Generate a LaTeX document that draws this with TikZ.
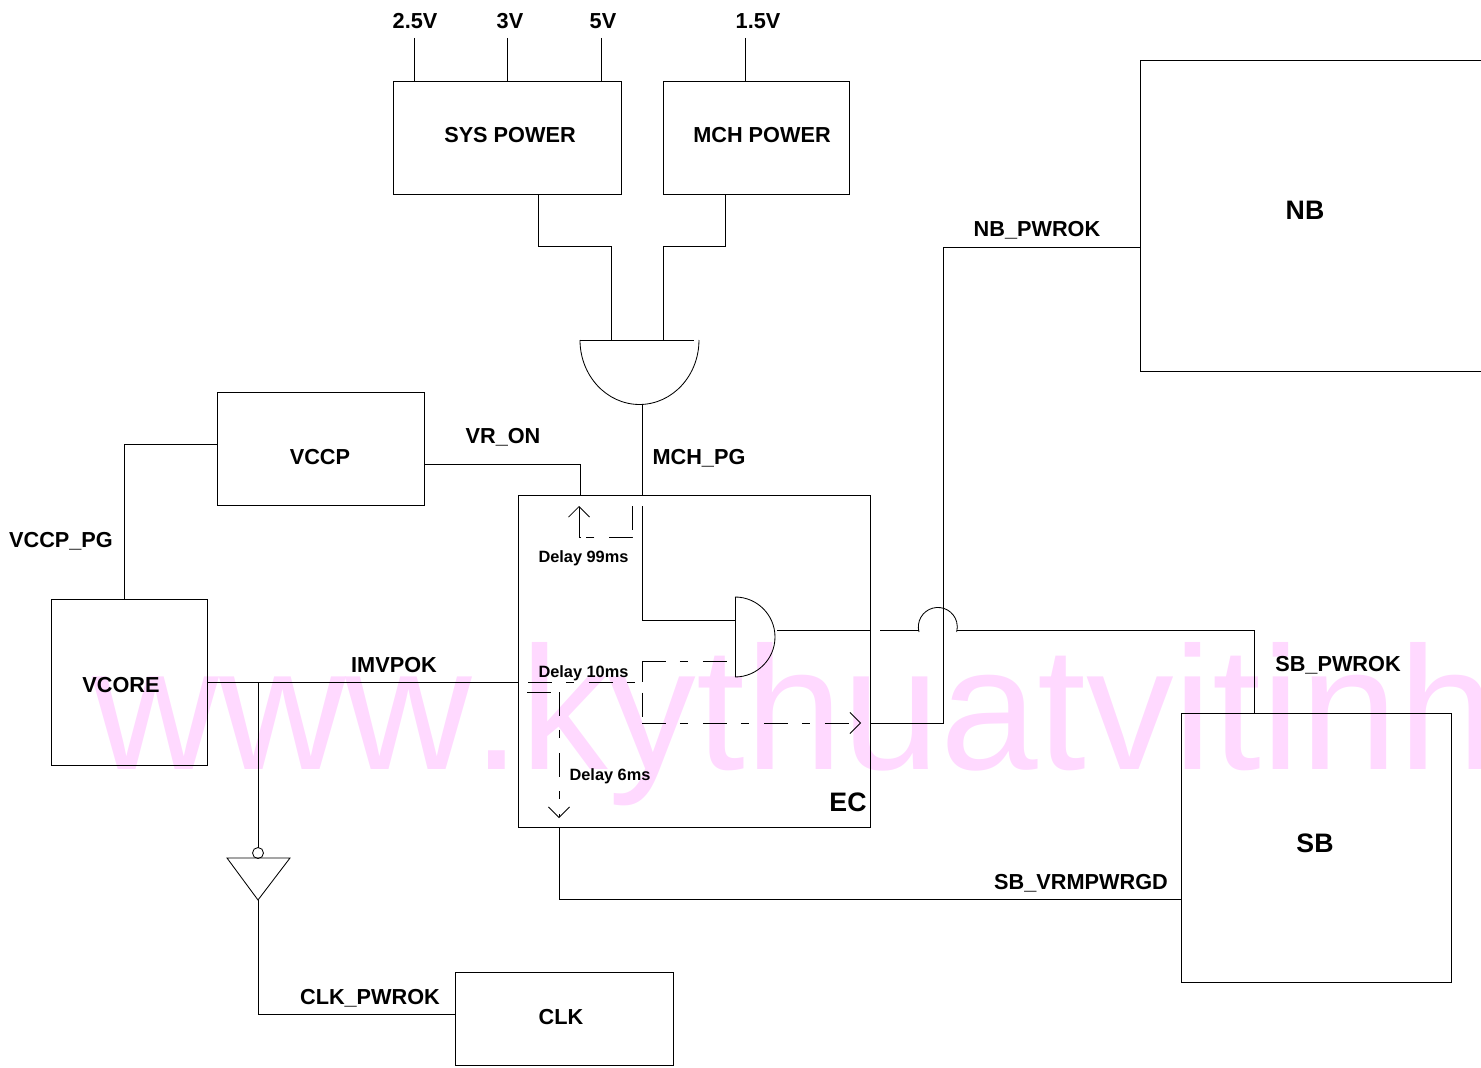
\documentclass[tikz,border=0pt]{standalone}
\usepackage{fontspec}
\setmainfont{Liberation Sans}
\newfontfamily\markfont[Kerning=Off]{Liberation Sans}
\usetikzlibrary{arrows.meta}
\definecolor{markpink}{HTML}{FFD9FF}

\begin{document}
\begin{tikzpicture}[x=0.02cm, y=-0.02cm, line width=0.48pt,
  box/.style={draw, inner sep=0pt},
  lbl/.style={font=\fontsize{12.35}{15}\selectfont\bfseries, inner sep=0pt, text height=9.4pt, text depth=0pt},
  big/.style={font=\fontsize{15.2}{17}\selectfont\bfseries, inner sep=0pt, text height=10.9pt, text depth=0pt},
  small/.style={font=\fontsize{9.3}{11}\selectfont\bfseries, inner sep=0pt, text height=6.7pt, text depth=0pt},
  dashline/.style={dash pattern=on 13.6pt off 8pt on 4.5pt off 8.6pt},
  arrow/.style={-{Straight Barb[length=2.1mm, width=4.2mm]}}]
\useasboundingbox (0,0) rectangle (1481,1068);
\clip (0,0) rectangle (1481,1068);
% background text
\node[anchor=base west, inner sep=0pt, text=markpink, font=\markfont\fontsize{99.8}{110}\selectfont] (mark) at (92,769.5) {www.kythuatvitinh};
% boxes
\node[box, minimum width=4.56cm, minimum height=2.26cm] (sys) at (507,137.5) {};
\node[box, minimum width=3.72cm, minimum height=2.26cm] (mch) at (756,137.5) {};
\node[box, minimum width=8cm, minimum height=6.22cm] (nb) at (1340,215.5) {};
\node[box, minimum width=4.14cm, minimum height=2.26cm] (vccp) at (320.5,448.5) {};
\node[box, minimum width=3.12cm, minimum height=3.32cm] (vcore) at (129,682) {};
\node[box, minimum width=7.04cm, minimum height=6.64cm] (ec) at (694,661) {};
\node[box, minimum width=5.4cm, minimum height=5.38cm] (sb) at (1316,847.5) {};
\node[box, minimum width=4.36cm, minimum height=1.86cm] (clk) at (564,1018.5) {};
% texts
\node[lbl] (t25) at (415,20) {2.5V};
\node[lbl] (t3) at (510,20) {3V};
\node[lbl] (t5) at (603,20) {5V};
\node[lbl] (t15) at (758,20) {1.5V};
\node[lbl] (tsys) at (510,134) {SYS POWER};
\node[lbl] (tmch) at (762,134) {MCH POWER};
\node[big] (tnb) at (1305,210) {NB};
\node[lbl] (tnbok) at (1037,228) {NB\_PWROK};
\node[lbl] (tvr) at (503,435) {VR\_ON};
\node[lbl] (tpg) at (699,456) {MCH\_PG};
\node[lbl] (tvccp) at (320,456) {VCCP};
\node[lbl] (tvpg) at (61,539) {VCCP\_PG};
\node[small] (td99) at (583.5,556.5) {Delay 99ms};
\node[small] (td10) at (583.5,671.5) {Delay 10ms};
\node[small] (td6) at (610,774.5) {Delay 6ms};
\node[lbl] (timv) at (394,664) {IMVPOK};
\node[lbl] (tcore) at (121,684) {VCORE};
\node[lbl] (tsbok) at (1338,663) {SB\_PWROK};
\node[big] (tec) at (848,802) {EC};
\node[big] (tsb) at (1315,843) {SB};
\node[lbl] (tsbv) at (1081,881) {SB\_VRMPWRGD};
\node[lbl] (tclkok) at (370,996) {CLK\_PWROK};
\node[lbl] (tclk) at (561,1016) {CLK};
% rails
\coordinate (r25) at (414,38);\coordinate (r3) at (507,38);\coordinate (r5) at (601,38);\coordinate (r15) at (745,38);
\draw (r25) -- (r25 |- sys.north);\draw (r3) -- (r3 |- sys.north);\draw (r5) -- (r5 |- sys.north);\draw (r15) -- (r15 |- mch.north);
% top gate
\coordinate (ga) at (611,340);\coordinate (gb) at (663,340);\coordinate (gl) at (580,340);\coordinate (gr) at (694,340);\coordinate (gout) at (642,405);
\draw (538,194) |- (ga |- 0,246) -- (ga);
\draw (725,194) |- (gb |- 0,246) -- (gb);
\draw (gl) -- (gr);
\draw (gl) arc[start angle=180, end angle=360, x radius=1.19cm, y radius=1.29cm];
\draw (gout) -- (gout |- ec.north);
% VCCP and VCORE
\draw (vccp.east |- 0,464) -| (580,495);
\draw (vccp.west |- 0,444) -| (124,599);
\coordinate (tee) at (258,682);
\draw (vcore.east |- tee) -- (ec.west |- tee);
% inverter
\coordinate (il) at (227,858);\coordinate (ir) at (290,858);\coordinate (ib) at (258,900);
\draw (tee) -- (258,847.5);
\node[draw, circle, inner sep=0pt, minimum size=0.22cm] (bub) at (258,853) {};
\draw (il) -- (ir) -- (ib) -- cycle;
\draw (ib) |- (clk.west |- 0,1014);
% EC inner gate
\coordinate (ea) at (735,620);\coordinate (et) at (735,597);\coordinate (eb) at (735,677);
\draw (642,506) |- (ea);
\draw (et) -- (eb);
\draw (et) arc[start angle=90, end angle=-90, radius=0.8cm];
\draw (777,630) -- (ec.east |- 0,630);
% crossing
\coordinate (hl) at (919,632);
\draw (880,630) -- (hl |- 0,630);
\draw (hl) arc[start angle=195, end angle=-15, radius=0.39cm];
\draw (957,630) -| (1254,713);
\draw (ec.east |- 0,723) -| (943,247) -- (nb.west |- 0,247);
\draw (559,827) |- (sb.west |- 0,899);
% delays
\draw[arrow, dash pattern=on 13.6pt off 4pt on 13pt off 8.5pt on 4.5pt off 3pt on 22pt] (632,506) -- (632,537) -- (579,537) -- (579,506);
\draw[dashline] (528,682) -- (642,682);
\draw[dashline] (642,661) -- (727,661);
\draw[dash pattern=on 12pt off 6pt on 13.6pt off 4pt] (642,661) -- (642,723);
\draw[dashline, arrow] (642,723) -- (861,723);
\draw (527,692) -- (551,692);
\draw[dashline, arrow] (559,692) -- (559,818);
\end{tikzpicture}
\end{document}
